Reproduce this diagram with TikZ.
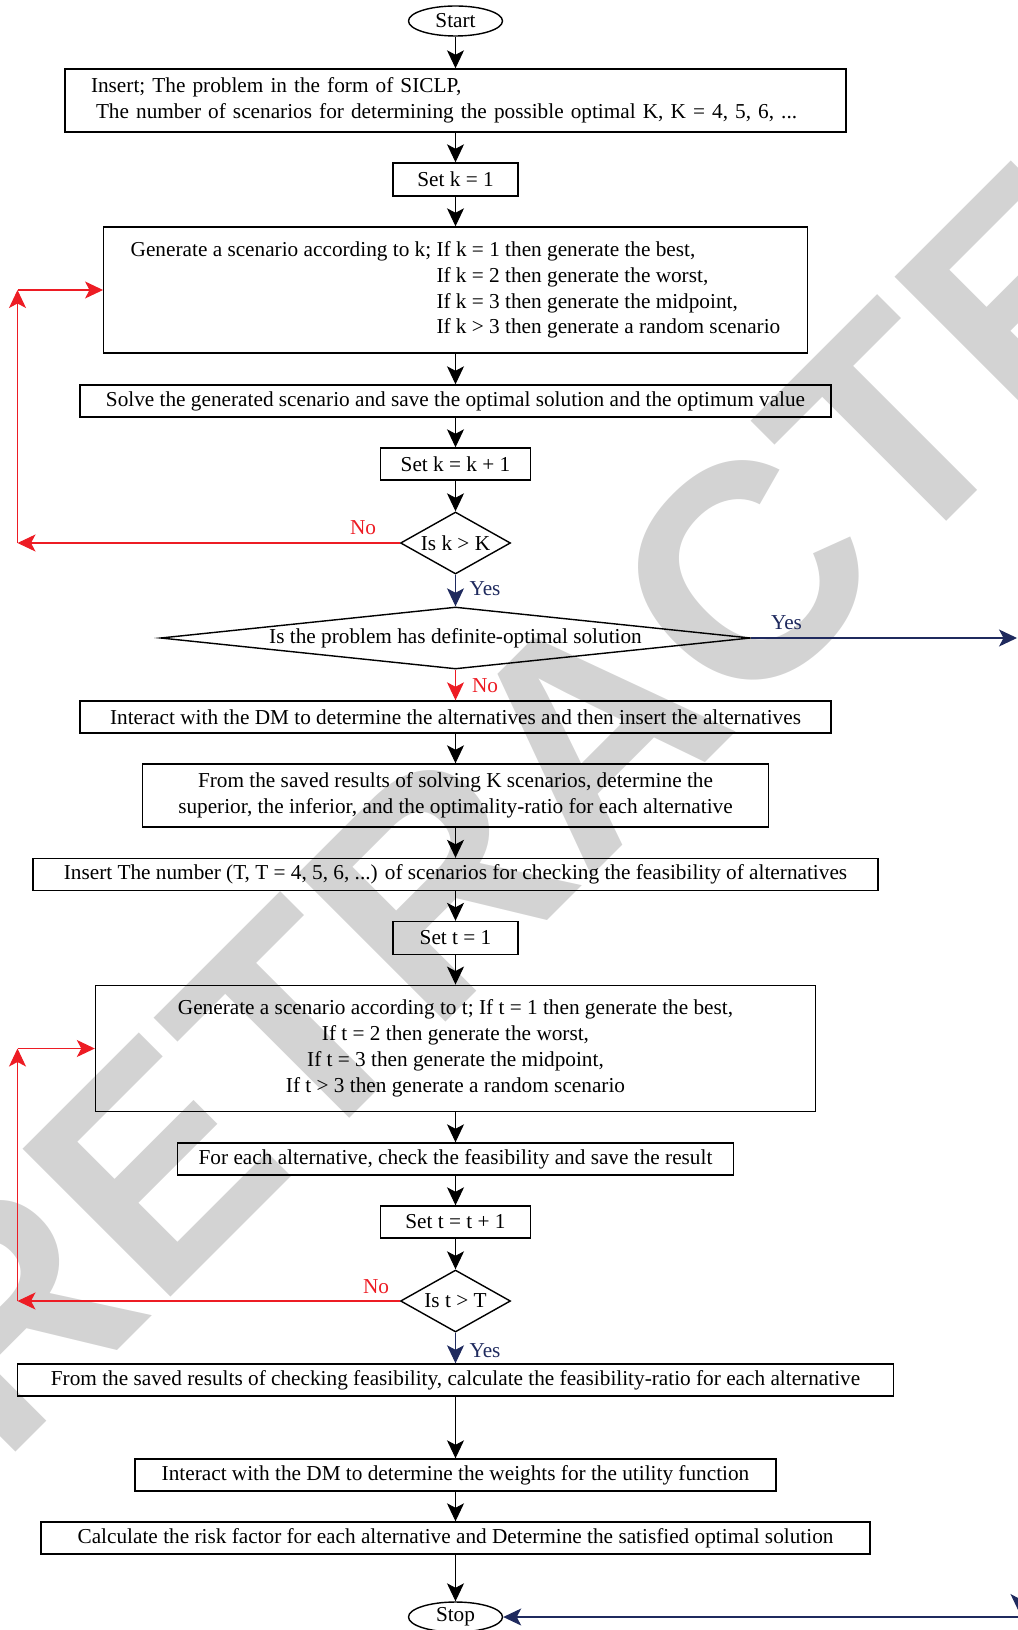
\documentclass[tikz,border=0pt]{standalone}
\usepackage{fontspec}
\setmainfont{Liberation Serif}
\newfontfamily\stampfont{Liberation Sans}
\usetikzlibrary{arrows.meta,positioning,shapes}
\definecolor{noRed}{RGB}{237,28,36}
\definecolor{yesBlue}{RGB}{31,42,94}
\definecolor{stampGray}{RGB}{211,211,211}

\begin{document}
\begin{tikzpicture}[
    font=\fontsize{12.1}{14.7}\selectfont,
    box/.style={draw, line width=0.8pt, minimum height=0.64cm, inner sep=2pt},
    term/.style={draw, ellipse, line width=0.8pt, minimum width=1.88cm, minimum height=0.6cm, inner sep=0pt},
    test/.style={draw, diamond, line width=0.8pt, aspect=1.77, minimum width=2.2cm, minimum height=1.24cm, inner sep=0pt},
    arrow/.style={-{Stealth[length=3.6mm, width=3.4mm, inset=0.9mm]}, line width=0.6pt},
    noarrow/.style={arrow, noRed},
    yesarrow/.style={arrow, yesBlue},
    nolbl/.style={text=noRed, inner sep=0pt},
    yeslbl/.style={text=yesBlue, inner sep=0pt},
    stamp/.style={rotate=45, text=stampGray, inner sep=0pt, font=\stampfont\bfseries\fontsize{173}{173}\selectfont}
]
\useasboundingbox (0,0) rectangle (20.34,-32.6);

% watermark
\node[stamp] (stampword) at (11.8,-14.6) {RETRACTED};

% first loop (k)
\node[term] (start) at (9.11,-0.42) {Start};
\node[box, minimum width=15.62cm, minimum height=1.26cm, inner xsep=0.52cm, text width=14.58cm, align=left] (insk) at (9.11,-2.01) {Insert; The problem in the form of SICLP,\\ \hspace*{0.1cm}The number of scenarios for determining the possible optimal K, K = 4, 5, 6, ...};
\node[box, minimum width=2.5cm, minimum height=0.66cm] (setk) at (9.11,-3.59) {Set k = 1};
\node[box, minimum width=14.07cm, minimum height=2.52cm] (genk) at (9.11,-5.8) {\begin{tabular}{@{}l@{\ }l@{}}Generate a scenario according to k; & If k = 1 then generate the best,\\ & If k = 2 then generate the worst,\\ & If k = 3 then generate the midpoint,\\ & If k > 3 then generate a random scenario\end{tabular}};
\node[box, minimum width=15.02cm] (solve) at (9.11,-8.02) {Solve the generated scenario and save the optimal solution and the optimum value};
\node[box, minimum width=3cm] (inck) at (9.11,-9.28) {Set k = k + 1};
\node[test] (testk) at (9.11,-10.86) {Is k > K};
\node[test, aspect=10, minimum width=11.8cm] (testopt) at (9.11,-12.76) {Is the problem has definite-optimal solution};

% alternatives
\node[box, minimum width=15.02cm] (dm) at (9.11,-14.34) {Interact with the DM to determine the alternatives and then insert the alternatives};
\node[box, minimum width=12.52cm, minimum height=1.26cm, align=center] (ratio) at (9.11,-15.91) {From the saved results of solving K scenarios, determine the\\superior, the inferior, and the optimality-ratio for each alternative};

% second loop (t)
\node[box, minimum width=16.9cm] (inst) at (9.11,-17.49) {Insert The number (T, T = 4, 5, 6, ...) of scenarios for checking the feasibility of alternatives};
\node[box, minimum width=2.5cm, minimum height=0.66cm] (sett) at (9.11,-18.76) {Set t = 1};
\node[box, minimum width=14.4cm, minimum height=2.53cm, align=center] (gent) at (9.11,-20.97) {Generate a scenario according to t; If t = 1 then generate the best,\\If t = 2 then generate the worst,\\If t = 3 then generate the midpoint,\\If t > 3 then generate a random scenario};
\node[box, minimum width=11.12cm] (feas) at (9.11,-23.18) {For each alternative, check the feasibility and save the result};
\node[box, minimum width=3cm] (inct) at (9.11,-24.44) {Set t = t + 1};
\node[test] (testt) at (9.11,-26.02) {Is t > T};

% final steps
\node[box, minimum width=17.52cm] (fratio) at (9.11,-27.6) {From the saved results of checking feasibility, calculate the feasibility-ratio for each alternative};
\node[box, minimum width=12.82cm] (weights) at (9.11,-29.5) {Interact with the DM to determine the weights for the utility function};
\node[box, minimum width=16.58cm] (risk) at (9.11,-30.76) {Calculate the risk factor for each alternative and Determine the satisfied optimal solution};
\node[term] (stop) at (9.11,-32.34) {Stop};

% labels
\node[nolbl] (nok) at (7.26,-10.56) {No};
\node[yeslbl] (yesk) at (9.7,-11.78) {Yes};
\node[yeslbl] (yesopt) at (15.73,-12.45) {Yes};
\node[nolbl] (noopt) at (9.7,-13.72) {No};
\node[nolbl] (not) at (7.52,-25.74) {No};
\node[yeslbl] (yest) at (9.7,-27.02) {Yes};

\coordinate (kleft) at (0.35,-10.86);
\coordinate (ktop) at (0.35,-5.8);
\coordinate (tleft) at (0.35,-26.02);
\coordinate (ttop) at (0.35,-20.97);
\coordinate (optout) at (20.34,-12.76);
\coordinate (stopin) at (20.6,-32.34);
\coordinate (dropa) at (20.38,-31.4);
\coordinate (dropb) at (20.38,-32.24);

\draw[arrow] (start) -- (insk);
\draw[arrow] (insk) -- (setk);
\draw[arrow] (setk) -- (genk);
\draw[arrow] (genk) -- (solve);
\draw[arrow] (solve) -- (inck);
\draw[arrow] (inck) -- (testk);
\draw[noarrow] (testk) -- (kleft);
\draw[noarrow] (kleft) -- (ktop);
\draw[noarrow] (ktop) -- (genk.west);
\draw[yesarrow] (testk) -- (testopt);
\draw[yesarrow] (testopt.east) -- (optout);
\draw[noarrow] (testopt) -- (dm);
\draw[arrow] (dm) -- (ratio);
\draw[arrow] (ratio) -- (inst);
\draw[arrow] (inst) -- (sett);
\draw[arrow] (sett) -- (gent);
\draw[arrow] (gent) -- (feas);
\draw[arrow] (feas) -- (inct);
\draw[arrow] (inct) -- (testt);
\draw[noarrow] (testt) -- (tleft);
\draw[noarrow] (tleft) -- (ttop);
\draw[noarrow] (ttop) -- (gent.west);
\draw[yesarrow] (testt) -- (fratio);
\draw[arrow] (fratio) -- (weights);
\draw[arrow] (weights) -- (risk);
\draw[arrow] (risk) -- (stop);
\draw[yesarrow] (stopin) -- (stop.east);
\draw[yesarrow] (dropa) -- (dropb);
\end{tikzpicture}
\end{document}
